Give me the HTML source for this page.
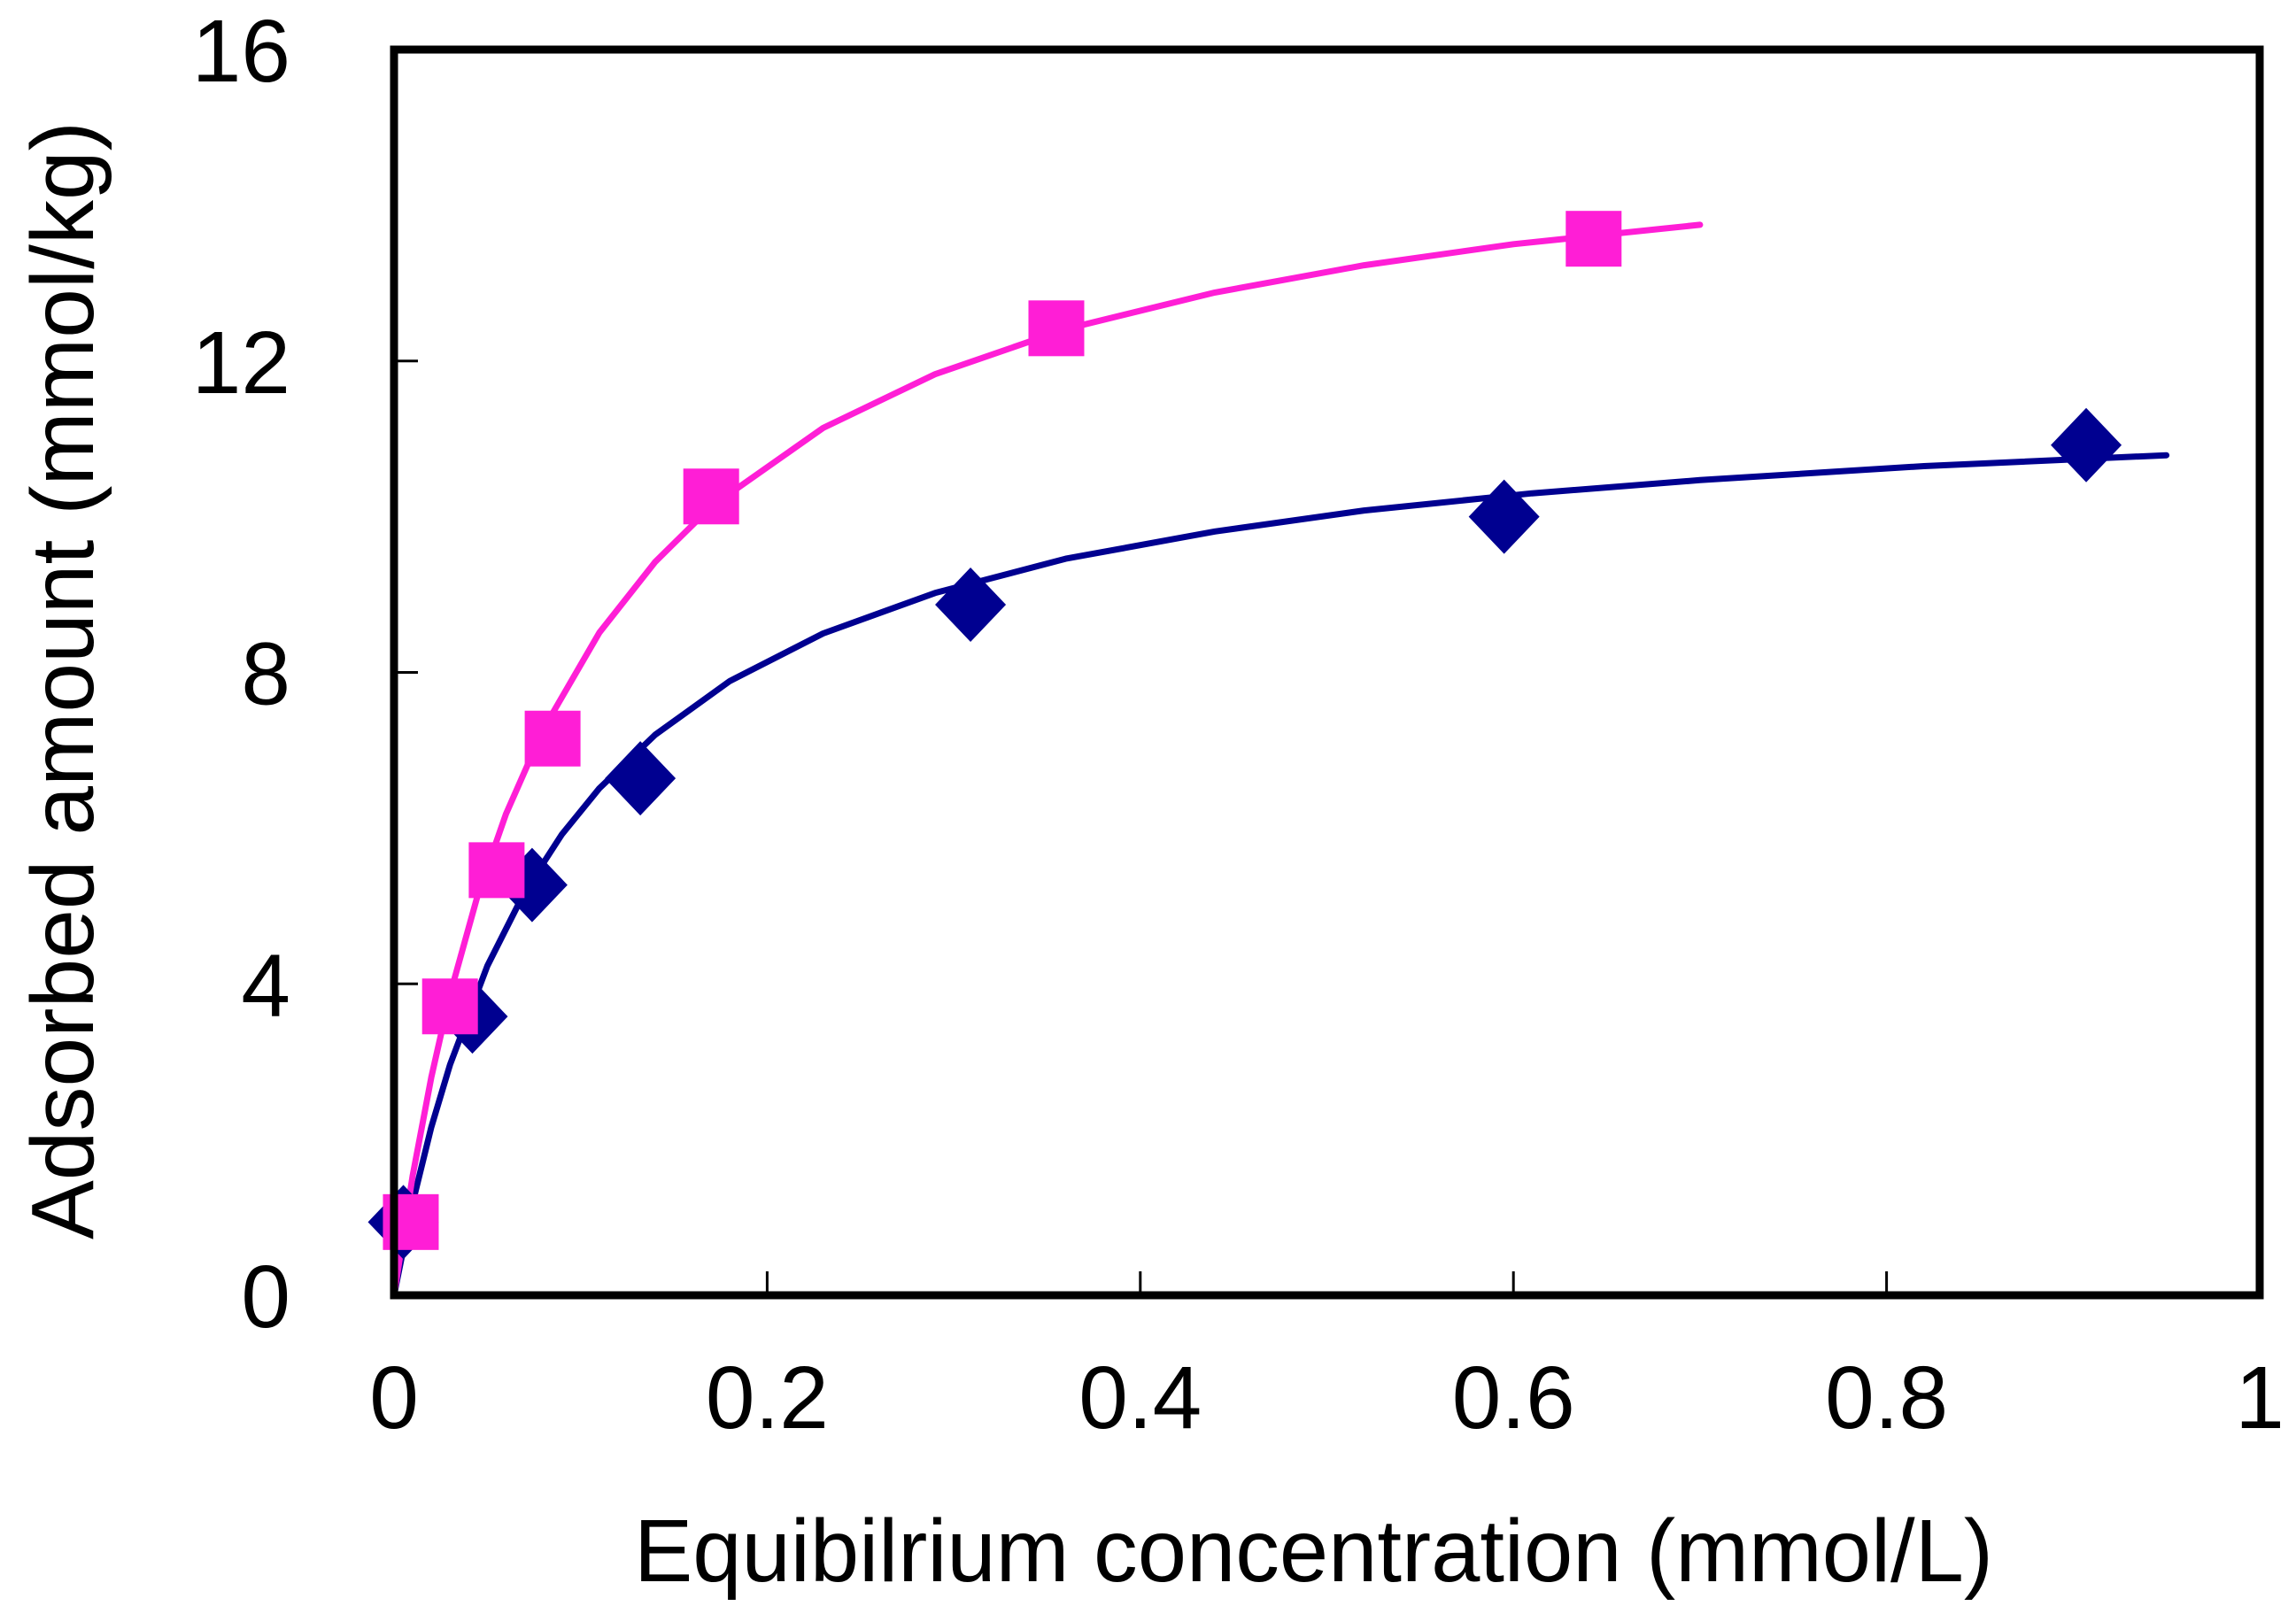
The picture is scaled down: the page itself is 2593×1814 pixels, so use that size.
<!DOCTYPE html>
<html><head><meta charset="utf-8"><style>
html,body{margin:0;padding:0;background:#fff;}
svg{display:block;}
text{font-family:"Liberation Sans",Arial,sans-serif;fill:#000;}
</style></head>
<body>
<svg id="chart" width="2593" height="1814" viewBox="0 0 2593 1814" xmlns="http://www.w3.org/2000/svg">
<g id="grid"></g>
<g id="series"></g>
<rect x="445" y="56" width="2107" height="1407" fill="none" stroke="#000" stroke-width="9"/>
<text x="716" y="1786" font-size="100" textLength="1535" lengthAdjust="spacingAndGlyphs">Equibilrium concentration (mmol/L)</text>
<text transform="translate(105,1400) rotate(-90)" x="0" y="0" font-size="100" textLength="1263" lengthAdjust="spacingAndGlyphs">Adsorbed amount (mmol/kg)</text>
</svg>
<script>
const xTicks = [0, 0.2, 0.4, 0.6, 0.8, 1];
const xTickLabels = ["0", "0.2", "0.4", "0.6", "0.8", "1"];
const yTicks = [0, 4, 8, 12, 16];
const yTickLabels = ["0", "4", "8", "12", "16"];

const blueX = [0.005, 0.042, 0.074, 0.132, 0.309, 0.595, 0.907];
const blueY = [0.94, 3.58, 5.27, 6.64, 8.87, 10.0, 10.92];
const pinkX = [0.009, 0.030, 0.055, 0.085, 0.170, 0.355, 0.643];
const pinkY = [0.94, 3.71, 5.46, 7.15, 10.26, 12.42, 13.57];

const blueFitX = [0, 0.01, 0.02, 0.03, 0.05, 0.07, 0.09, 0.11, 0.14, 0.18, 0.23, 0.29, 0.36, 0.44, 0.52, 0.61, 0.70, 0.82, 0.95];
const blueFitY = [0, 1.19, 2.16, 2.96, 4.23, 5.18, 5.92, 6.51, 7.20, 7.89, 8.50, 9.02, 9.46, 9.81, 10.08, 10.30, 10.47, 10.65, 10.79];
const pinkFitX = [0, 0.01, 0.02, 0.03, 0.045, 0.06, 0.08, 0.11, 0.14, 0.17, 0.23, 0.29, 0.36, 0.44, 0.52, 0.60, 0.70];
const pinkFitY = [0, 1.54, 2.80, 3.86, 5.15, 6.18, 7.27, 8.51, 9.42, 10.13, 11.14, 11.83, 12.41, 12.88, 13.23, 13.50, 13.75];

const NS = "http://www.w3.org/2000/svg";
const X0 = 445, X1 = 2552, Y0 = 1463, Y1 = 56;
function sx(v){ return X0 + v * (X1 - X0); }
function sy(v){ return Y0 - v / 16 * (Y0 - Y1); }
function mk(tag, attrs){ const e = document.createElementNS(NS, tag); for (const k in attrs) e.setAttribute(k, attrs[k]); return e; }

const axes = document.getElementById('grid');
xTicks.forEach((t, i) => {
  if (t > 0 && t < 1) {
    const l = mk('line', {x1: sx(t), x2: sx(t), y1: Y0, y2: Y0 - 27, stroke: '#000', 'stroke-width': 3});
    
    
    axes.appendChild(l);
  }
  const tx = mk('text', {x: sx(t), y: 1613, 'font-size': 100, 'text-anchor': 'middle'});
  tx.textContent = xTickLabels[i];
  
  
  axes.appendChild(tx);
});
yTicks.forEach((t, i) => {
  if (t > 0 && t < 16) {
    const l = mk('line', {x1: X0, x2: X0 + 27, y1: sy(t), y2: sy(t), stroke: '#000', 'stroke-width': 3});
    
    
    axes.appendChild(l);
  }
  const tx = mk('text', {x: 328, y: sy(t) + 36, 'font-size': 100, 'text-anchor': 'end'});
  tx.textContent = yTickLabels[i];
  
  
  axes.appendChild(tx);
});

const layer = document.getElementById('series');
function fitLine(xs, ys, color, name){
  const pts = xs.map((x, i) => sx(x).toFixed(1) + ',' + sy(ys[i]).toFixed(1)).join(' ');
  const p = mk('polyline', {points: pts, fill: 'none', stroke: color, 'stroke-width': 7, 'stroke-linejoin': 'round', 'stroke-linecap': 'round'});
  
  
  layer.appendChild(p);
}
fitLine(blueFitX, blueFitY, '#000090', 'blue-fit-line');
fitLine(pinkFitX, pinkFitY, '#FF1ED6', 'pink-fit-line');

blueX.forEach((x, i) => {
  const cx = sx(x), cy = sy(blueY[i]), r = 40, rv = 42;
  const d = mk('polygon', {points: `${cx},${cy-rv} ${cx+r},${cy} ${cx},${cy+rv} ${cx-r},${cy}`, fill: '#000090'});
  
  
  layer.appendChild(d);
});
pinkX.forEach((x, i) => {
  const cx = sx(x), cy = sy(pinkY[i]), h = 31.5;
  const s = mk('rect', {x: cx - h, y: cy - h, width: 2*h, height: 2*h, fill: '#FF1ED6'});
  
  
  layer.appendChild(s);
});
</script>
</body></html>
